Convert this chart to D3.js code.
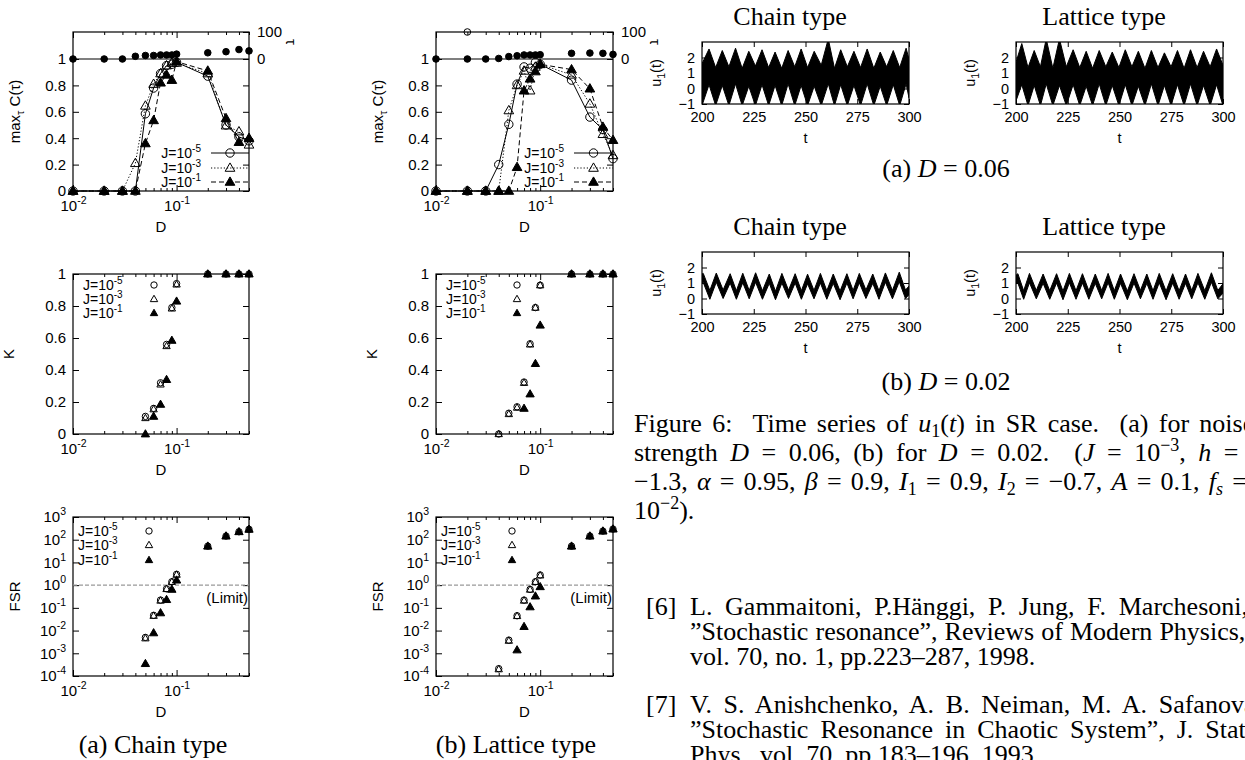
<!DOCTYPE html>
<html><head><meta charset="utf-8">
<script src="https://cdn.jsdelivr.net/npm/d3@7"></script>
<style>body{margin:0;background:#fff}svg{display:block}</style>
</head><body>
<script>
// ---------------- DATA ----------------
const dVals = [0.01,0.02,0.03,0.04,0.05,0.06,0.07,0.08,0.09,0.1,0.2,0.3,0.4,0.5];
// max_tau C(tau), chain type
const cChainJ5 = [0,0,0,0,0.585,0.78,0.89,0.95,0.96,0.975,0.87,0.50,0.41,0.38];
const cChainJ3 = [0,0,0,0.21,0.645,0.81,0.89,0.95,0.97,0.97,0.89,0.495,0.45,0.35];
const cChainJ1 = [0,0,0,0,0.36,0.535,0.82,0.88,0.84,0.98,0.91,0.55,0.37,0.40];
const tauChain = [0,0,0,10,13,13,15,15,15,18,23,27,35,30];
// max_tau C(tau), lattice type
const cLatJ5 = [0,0,0,0.2,0.505,0.81,0.94,0.93,0.975,0.96,0.84,0.56,0.465,0.245];
const cLatJ3 = [0,0,0,0,0.61,0.80,0.91,0.76,0.94,0.96,0.88,0.66,0.43,0.27];
const cLatJ1 = [0,0,0,0,0,0.18,0.76,0.85,0.905,0.96,0.92,0.775,0.485,0.385];
const tauLat = [0,0,0,2,9,12,15,15,15,16,21,22,21,17];
const tauLatOpenD = [0.02];
const tauLatOpen = [100];
// K
const kChainD = [0.05,0.06,0.07,0.08,0.09,0.1,0.2,0.3,0.4,0.5];
const kChainJ5 = [0.11,0.16,0.32,0.56,0.79,0.94,1,1,1,1];
const kChainJ3 = [0.10,0.155,0.31,0.55,0.785,0.935,1,1,1,1];
const kChainJ1 = [0,0.11,0.185,0.34,0.585,0.83,1,1,1,1];
const kLatD = [0.04,0.05,0.06,0.07,0.08,0.09,0.1,0.2,0.3,0.4,0.5];
const kLatJ5 = [0,0.13,0.17,0.325,0.564,0.79,0.93,1,1,1,1];
const kLatJ3 = [0,0.125,0.165,0.32,0.56,0.79,0.93,1,1,1,1];
const kLatJ1D = [0.07,0.08,0.09,0.1,0.2,0.3,0.4,0.5];
const kLatJ1 = [0.16,0.25,0.44,0.68,1,1,1,1];
// FSR
const fsrChainD = [0.05,0.06,0.07,0.08,0.09,0.1,0.2,0.3,0.4,0.5];
const fsrChainJ5 = [0.0050,0.047,0.22,0.69,1.41,3.0,52,145,224,288];
const fsrChainJ3 = [0.0046,0.045,0.21,0.68,1.40,2.9,52,145,224,288];
const fsrChainJ1 = [0.00035,0.0079,0.060,0.23,0.65,1.66,52,145,224,288];
const fsrLatD = [0.04,0.05,0.06,0.07,0.08,0.09,0.1,0.2,0.3,0.4,0.5];
const fsrLatJ5 = [0.00021,0.0038,0.045,0.22,0.65,1.41,2.8,52,145,240,295];
const fsrLatJ3 = [0.00020,0.0036,0.044,0.21,0.64,1.40,2.7,52,145,240,295];
const fsrLatJ1D = [0.06,0.07,0.08,0.09,0.1,0.2,0.3,0.4,0.5];
const fsrLatJ1 = [0.0014,0.015,0.11,0.33,0.85,52,145,240,295];
// time series envelopes u1(t): D = 0.06
const ts06ChainT = [200,203.4,206.6,209.8,213.0,216.2,219.4,222.6,225.8,229.0,232.2,235.3,238.5,241.6,244.8,247.9,251.0,254.2,257.6,261.0,264.0,267.0,270.2,273.4,276.6,279.8,283.0,286.1,289.2,292.4,295.5,298.6,300];
const ts06ChainHi = [1.6,2.55,1.35,2.45,1.4,2.6,1.3,2.4,1.45,2.5,1.35,2.35,1.3,2.45,1.4,2.55,1.35,2.4,1.5,3.2,1.3,2.5,1.4,2.4,1.35,2.55,1.3,2.35,1.4,2.45,1.35,2.6,1.9];
const ts06ChainLo = [-1.1,0.25,-1.1,0.2,-1.1,0.3,-1.1,0.15,-1.1,0.25,-1.1,0.2,-1.1,0.3,-1.1,0.2,-1.1,0.15,-1.1,0.3,-1.1,0.25,-1.1,0.2,-1.1,0.3,-1.1,0.15,-1.1,0.25,-1.1,0.3,-0.6];
const ts06LatT = [200,202.8,205.8,208.8,211.8,214.6,217.8,221.0,224.3,227.6,230.8,233.9,237.0,240.2,243.4,246.5,249.7,252.8,256.0,259.1,262.3,265.4,268.6,271.7,274.9,278.0,281.2,284.3,287.5,290.6,293.8,296.9,300];
const ts06LatHi = [1.7,2.9,1.35,2.45,1.4,3.2,1.3,3.2,1.4,2.5,1.35,2.4,1.3,2.45,1.4,2.35,1.35,2.5,1.4,2.4,1.3,2.45,1.35,2.3,1.4,2.45,1.3,2.5,1.35,2.4,1.4,2.55,1.5];
const ts06LatLo = [-0.8,0.25,-1.1,0.2,-1.1,0.3,-1.1,0.2,-1.1,0.25,-1.1,0.15,-1.1,0.3,-1.1,0.2,-1.1,0.25,-1.1,0.15,-1.1,0.3,-1.1,0.2,-1.1,0.25,-1.1,0.3,-1.1,0.2,-1.1,0.25,-1.1];
// time series envelopes u1(t): D = 0.02
const ts02ChainT = [200,200.6,203.8,206.9,210.2,213.6,216.6,219.7,222.8,225.9,229.2,232.5,235.5,238.6,241.8,245.0,248.0,251.0,254.1,257.2,260.3,263.4,266.7,270.0,273.0,276.0,279.2,282.5,285.5,288.6,292.0,295.3,298.3,300];
const ts02ChainHi = [1.58,1.62,0.52,1.64,0.55,1.60,0.50,1.63,0.52,1.66,0.50,1.58,0.47,1.62,0.53,1.60,0.50,1.57,0.52,1.62,0.50,1.58,0.48,1.60,0.52,1.62,0.55,1.58,0.50,1.65,0.52,1.70,0.55,0.80];
const ts02ChainLo = [1.00,1.03,-0.05,1.05,0.00,1.00,-0.05,1.02,-0.02,1.05,-0.05,0.98,-0.08,1.00,0.00,1.00,-0.05,0.95,-0.02,1.00,-0.05,0.98,-0.08,1.00,-0.02,1.02,0.00,0.98,-0.05,1.05,-0.02,1.08,0.00,0.25];
const ts02LatT = [200,200.9,203.7,206.5,209.8,213.1,216.3,219.6,222.7,225.8,229.0,232.1,235.2,238.3,241.4,244.5,247.5,250.5,253.8,257.0,260.1,263.2,266.2,269.2,272.5,275.7,278.8,281.9,284.9,287.9,291.2,294.4,297.5,300];
const ts02LatHi = [1.50,1.60,0.50,1.62,0.52,1.58,0.50,1.60,0.48,1.62,0.50,1.60,0.50,1.58,0.52,1.62,0.50,1.58,0.48,1.60,0.52,1.58,0.50,1.62,0.48,1.60,0.50,1.58,0.52,1.62,0.50,1.66,0.52,0.95];
const ts02LatLo = [0.95,1.00,-0.05,1.02,-0.02,0.98,-0.05,1.00,-0.08,1.02,-0.05,1.00,-0.05,0.98,-0.02,1.02,-0.05,0.98,-0.08,1.00,-0.02,0.98,-0.05,1.02,-0.08,1.00,-0.05,0.98,-0.02,1.02,-0.05,1.05,-0.02,0.35];
// tick labels
const cTicks = [0,0.2,0.4,0.6,0.8,1];
const fsrTicks = [1e-4,1e-3,1e-2,1e-1,1,10,100,1000];
const tTicks = [200,225,250,275,300];
const uTicks = [-1,0,1,2];
const legendLabels = ['-5','-3','-1'];

// ---------------- DRAW ----------------
const SANS = '"Liberation Sans", Arial, Helvetica, sans-serif';
const SERIF = '"Liberation Serif", "Times New Roman", serif';
const FS = 26;
const svg = d3.select('body').append('svg').attr('width',1245).attr('height',760);
svg.append('rect').attr('width',1245).attr('height',760).attr('fill','#fff');

function mark(g, type, cx, cy, s) {
  if (type === 'oc' || type === 'fc') {
    g.append('circle').attr('cx',cx).attr('cy',cy).attr('r',s)
      .attr('fill', type==='fc' ? '#000' : 'none').attr('stroke','#000').attr('stroke-width',1);
  } else {
    g.append('path').attr('d', d3.symbol(d3.symbolTriangle, s*s*2.3)())
      .attr('transform',`translate(${cx},${cy+0.5})`)
      .attr('fill', type==='ft' ? '#000' : 'none').attr('stroke','#000').attr('stroke-width',1);
  }
}
function styleAxis(ax, size) {
  ax.select('.domain').remove();
  ax.selectAll('.tick line').attr('stroke','#000').attr('stroke-width',1);
  ax.selectAll('.tick text').attr('font-family',SANS).attr('font-size',size||15).attr('fill','#000');
}
function sup(textSel, base, s, size) {
  textSel.text(null);
  textSel.append('tspan').text(base);
  textSel.append('tspan').attr('dy',-7).attr('font-size',size||10.5).text(s);
}
function frame(g, x0, x1, y0, y1) {
  g.append('rect').attr('x',x0).attr('y',y0).attr('width',x1-x0).attr('height',y1-y0)
    .attr('fill','none').attr('stroke','#000').attr('stroke-width',1.2);
}
const majorsD = [0.01,0.1];
const minorsD = [0.02,0.03,0.04,0.05,0.06,0.07,0.08,0.09,0.2,0.3,0.4,0.5];
function logXAxes(g, x, yTop, yBot, label) {
  const b = g.append('g').attr('transform',`translate(0,${yBot})`)
    .call(d3.axisBottom(x).tickValues(majorsD).tickSize(-6).tickSizeOuter(0).tickPadding(9).tickFormat(()=>''));
  styleAxis(b);
  b.selectAll('.tick text').each(function(d){ sup(d3.select(this),'10', d===0.01?'-2':'-1'); });
  const bm = g.append('g').attr('transform',`translate(0,${yBot})`)
    .call(d3.axisBottom(x).tickValues(minorsD).tickSize(-3).tickSizeOuter(0).tickFormat(''));
  styleAxis(bm);
  const t = g.append('g').attr('transform',`translate(0,${yTop})`)
    .call(d3.axisTop(x).tickValues(majorsD).tickSize(-6).tickSizeOuter(0).tickFormat(''));
  styleAxis(t);
  const tm = g.append('g').attr('transform',`translate(0,${yTop})`)
    .call(d3.axisTop(x).tickValues(minorsD).tickSize(-3).tickSizeOuter(0).tickFormat(''));
  styleAxis(tm);
  const [x0,x1] = x.range();
  g.append('text').attr('x',(x0+x1)/2).attr('y',yBot+41).attr('text-anchor','middle')
    .attr('font-family',SANS).attr('font-size',15).text(label);
}
function yLabel(g, x, y, build) {
  const t = g.append('text').attr('transform',`translate(${x},${y}) rotate(-90)`)
    .attr('text-anchor','middle').attr('font-family',SANS).attr('font-size',15);
  build(t);
}
function legendText(g, x, y, anchor, e) {
  const t = g.append('text').attr('x',x).attr('y',y).attr('text-anchor',anchor)
    .attr('font-family',SANS).attr('font-size',14);
  t.append('tspan').text('J=10');
  t.append('tspan').attr('dy',-6).attr('font-size',10).text(e);
}

const styles = [
  {m:'oc', dash:null},
  {m:'ot', dash:'1.2,2'},
  {m:'ft', dash:'5,3'}
];

const cols = [
  {x0:73, x1:249, c:[cChainJ5,cChainJ3,cChainJ1], tau:tauChain,
   kD:[kChainD,kChainD,kChainD], k:[kChainJ5,kChainJ3,kChainJ1],
   fD:[fsrChainD,fsrChainD,fsrChainD], f:[fsrChainJ5,fsrChainJ3,fsrChainJ1],
   openD:[], open:[], cap:'(a) Chain type', capX:153},
  {x0:436, x1:613, c:[cLatJ5,cLatJ3,cLatJ1], tau:tauLat,
   kD:[kLatD,kLatD,kLatJ1D], k:[kLatJ5,kLatJ3,kLatJ1],
   fD:[fsrLatD,fsrLatD,fsrLatJ1D], f:[fsrLatJ5,fsrLatJ3,fsrLatJ1],
   openD:tauLatOpenD, open:tauLatOpen, cap:'(b) Lattice type', capX:516}
];

cols.forEach(col => {
  const g = svg.append('g');
  const x = d3.scaleLog().domain([0.01,0.5]).range([col.x0,col.x1]);
  // ---------- C panel ----------
  const top=32, one=59, bot=191;
  const yC = d3.scaleLinear().domain([0,1]).range([bot,one]);
  const yT = d3.scaleLinear().domain([0,100]).range([one,top]);
  frame(g, col.x0, col.x1, top, bot);
  g.append('line').attr('x1',col.x0).attr('x2',col.x1).attr('y1',one).attr('y2',one).attr('stroke','#000').attr('stroke-width',1.2);
  logXAxes(g, x, top, bot, 'D');
  const la = g.append('g').attr('transform',`translate(${col.x0},0)`)
    .call(d3.axisLeft(yC).tickValues(cTicks).tickSize(-6).tickPadding(7).tickFormat(d3.format('~g')));
  styleAxis(la);
  const ra = g.append('g').attr('transform',`translate(${col.x1},0)`)
    .call(d3.axisRight(yC).tickValues(cTicks.slice(0,5)).tickSize(-6).tickFormat(''));
  styleAxis(ra);
  const ta = g.append('g').attr('transform',`translate(${col.x1},0)`)
    .call(d3.axisRight(yT).tickValues([0,100]).tickSize(-6).tickPadding(8).tickFormat(d3.format('d')));
  styleAxis(ta);
  g.append('text').attr('transform',`translate(${col.x1+37},${top+10}) rotate(90)`)
    .attr('text-anchor','middle').attr('font-family',SANS).attr('font-size',15).text('τ');
  yLabel(g, col.x0-53, (top+bot)/2, t => {
    t.append('tspan').text('max');
    t.append('tspan').attr('dy',4).attr('font-size',11).text('τ');
    t.append('tspan').attr('dy',-4).text(' C(τ)');
  });
  const cg = g.append('g');
  col.c.forEach((arr,i) => {
    const pts = dVals.map((d,j)=>[d,arr[j]]);
    cg.append('path').datum(pts).attr('fill','none').attr('stroke','#000').attr('stroke-width',1)
      .attr('stroke-dasharray',styles[i].dash)
      .attr('d', d3.line().x(p=>x(p[0])).y(p=>yC(p[1])));
    pts.forEach(p => mark(cg, styles[i].m, x(p[0]), yC(p[1]), 4.2));
  });
  dVals.forEach((d,j) => mark(cg,'fc', x(d), yT(col.tau[j]), 3.3));
  col.openD.forEach((d,j) => mark(cg,'oc', x(d), yT(col.open[j]), 3.3));
  const lyC = [153,168,182];
  legendLabels.forEach((e,i) => {
    legendText(g, col.x0+128, lyC[i]+5, 'end', e);
    g.append('line').attr('x1',col.x0+138).attr('x2',col.x1).attr('y1',lyC[i]).attr('y2',lyC[i])
      .attr('stroke','#000').attr('stroke-width',1).attr('stroke-dasharray',styles[i].dash);
    mark(g, styles[i].m, (col.x0+138+col.x1)/2, lyC[i], 4.2);
  });

  // ---------- K panel ----------
  const kTop=274, kBot=434;
  const yK = d3.scaleLinear().domain([0,1]).range([kBot,kTop]);
  frame(g, col.x0, col.x1, kTop, kBot);
  logXAxes(g, x, kTop, kBot, 'D');
  const kl = g.append('g').attr('transform',`translate(${col.x0},0)`)
    .call(d3.axisLeft(yK).tickValues(cTicks).tickSize(-6).tickPadding(7).tickFormat(d3.format('~g')));
  styleAxis(kl);
  const kr = g.append('g').attr('transform',`translate(${col.x1},0)`)
    .call(d3.axisRight(yK).tickValues(cTicks).tickSize(-6).tickFormat(''));
  styleAxis(kr);
  yLabel(g, col.x0-59, (kTop+kBot)/2, t => t.text('K'));
  const kg = g.append('g');
  [2,0,1].forEach(i => col.kD[i].forEach((d,j) => mark(kg, styles[i].m, x(d), yK(col.k[i][j]), i===2?3.6:3.2)));
  const lyK = [285,299,313];
  legendLabels.forEach((e,i) => {
    legendText(g, col.x0+10, lyK[i]+5, 'start', e);
    mark(g, styles[i].m, col.x0+81, lyK[i], 3.2);
  });

  // ---------- FSR panel ----------
  const fTop=517, fBot=676;
  const yF = d3.scaleLog().domain([1e-4,1e3]).range([fBot,fTop]);
  frame(g, col.x0, col.x1, fTop, fBot);
  logXAxes(g, x, fTop, fBot, 'D');
  const fl = g.append('g').attr('transform',`translate(${col.x0},0)`)
    .call(d3.axisLeft(yF).tickValues(fsrTicks).tickSize(-6).tickPadding(7).tickFormat(()=>''));
  styleAxis(fl);
  fl.selectAll('.tick text').each(function(d){ sup(d3.select(this),'10', String(Math.round(Math.log10(d)))); });
  const fr = g.append('g').attr('transform',`translate(${col.x1},0)`)
    .call(d3.axisRight(yF).tickValues(fsrTicks).tickSize(-6).tickFormat(''));
  styleAxis(fr);
  yLabel(g, col.x0-53, (fTop+fBot)/2, t => t.text('FSR'));
  g.append('line').attr('x1',col.x0).attr('x2',col.x1).attr('y1',yF(1)).attr('y2',yF(1))
    .attr('stroke','#999').attr('stroke-width',1.2).attr('stroke-dasharray','4,2');
  g.append('text').attr('x',col.x1-1).attr('y',yF(1)+18).attr('text-anchor','end')
    .attr('font-family',SANS).attr('font-size',15).text('(Limit)');
  const fg = g.append('g');
  [2,0,1].forEach(i => col.fD[i].forEach((d,j) => mark(fg, styles[i].m, x(d), yF(col.f[i][j]), i===2?3.6:3.2)));
  const lyF = [531,545,560];
  legendLabels.forEach((e,i) => {
    legendText(g, col.x0+5, lyF[i]+5, 'start', e);
    mark(g, styles[i].m, col.x0+76, lyF[i], 3.2);
  });
  g.append('text').attr('x',col.capX).attr('y',753).attr('text-anchor','middle')
    .attr('font-family',SERIF).attr('font-size',FS).text(col.cap);
});

// ---------- time series panels ----------
const tsPanels = [
  {x0:702,x1:909,top:42,bot:104,t:ts06ChainT,hi:ts06ChainHi,lo:ts06ChainLo,title:'Chain type'},
  {x0:1016,x1:1223,top:42,bot:104,t:ts06LatT,hi:ts06LatHi,lo:ts06LatLo,title:'Lattice type'},
  {x0:702,x1:909,top:252,bot:314,t:ts02ChainT,hi:ts02ChainHi,lo:ts02ChainLo,title:'Chain type'},
  {x0:1016,x1:1223,top:252,bot:314,t:ts02LatT,hi:ts02LatHi,lo:ts02LatLo,title:'Lattice type'}
];
tsPanels.forEach((p,i) => {
  const g = svg.append('g');
  const x = d3.scaleLinear().domain([200,300]).range([p.x0,p.x1]);
  const y = d3.scaleLinear().domain([-1,3]).range([p.bot,p.top]);
  const cid = 'clipts'+i;
  g.append('clipPath').attr('id',cid).append('rect').attr('x',p.x0).attr('y',p.top).attr('width',p.x1-p.x0).attr('height',p.bot-p.top);
  const pts = p.t.map((t,j)=>({t, hi:p.hi[j], lo:p.lo[j]}));
  g.append('path').datum(pts).attr('clip-path',`url(#${cid})`).attr('fill','#000').attr('stroke','#000').attr('stroke-width',1)
    .attr('d', d3.area().x(d=>x(d.t)).y0(d=>y(d.lo)).y1(d=>y(d.hi)));
  frame(g, p.x0, p.x1, p.top, p.bot);
  const b = g.append('g').attr('transform',`translate(0,${p.bot})`)
    .call(d3.axisBottom(x).tickValues(tTicks).tickSize(-5).tickSizeOuter(0).tickPadding(8).tickFormat(d3.format('d')));
  styleAxis(b, 14.5);
  const tp = g.append('g').attr('transform',`translate(0,${p.top})`)
    .call(d3.axisTop(x).tickValues(tTicks).tickSize(-5).tickSizeOuter(0).tickFormat(''));
  styleAxis(tp);
  const l = g.append('g').attr('transform',`translate(${p.x0},0)`)
    .call(d3.axisLeft(y).tickValues(uTicks).tickSize(-5).tickPadding(7).tickFormat(d3.format('d')));
  styleAxis(l, 14.5);
  const r = g.append('g').attr('transform',`translate(${p.x1},0)`)
    .call(d3.axisRight(y).tickValues(uTicks).tickSize(-5).tickFormat(''));
  styleAxis(r);
  g.append('text').attr('x',(p.x0+p.x1)/2).attr('y',p.bot+39).attr('text-anchor','middle')
    .attr('font-family',SANS).attr('font-size',14.5).text('t');
  const yl = g.append('text').attr('transform',`translate(${p.x0-41},${(p.top+p.bot)/2}) rotate(-90)`)
    .attr('text-anchor','middle').attr('font-family',SANS).attr('font-size',14.5);
  yl.append('tspan').text('u');
  yl.append('tspan').attr('dy',4).attr('font-size',10.5).text('1');
  yl.append('tspan').attr('dy',-4).text('(t)');
  g.append('text').attr('x',p.x0+88).attr('y',p.top-17).attr('text-anchor','middle')
    .attr('font-family',SERIF).attr('font-size',FS).text(p.title);
});
function dCaption(x, y, lab, val) {
  const t = svg.append('text').attr('x',x).attr('y',y).attr('text-anchor','middle')
    .attr('font-family',SERIF).attr('font-size',FS);
  t.append('tspan').text(lab+' ');
  t.append('tspan').attr('font-style','italic').text('D');
  t.append('tspan').text(' = '+val);
}
dCaption(946, 177, '(a)', '0.06');
dCaption(946, 390, '(b)', '0.02');

// ---------- caption paragraph ----------
function richLine(x, y, parts, ws) {
  const t = svg.append('text').attr('x',x).attr('y',y).attr('font-family',SERIF).attr('font-size',FS)
    .attr('word-spacing', ws||0).attr('xml:space','preserve');
  parts.forEach(p => {
    const s = t.append('tspan').text(p[0]);
    if (p[1]==='i') s.attr('font-style','italic');
    if (p[1]==='sup') s.attr('dy',-10).attr('font-size',18);
    if (p[1]==='sub') s.attr('dy',5).attr('font-size',18);
    if (p[1]==='subi') s.attr('dy',5).attr('font-size',18).attr('font-style','italic');
    if (p[2]) s.attr('dy', p[2]);
  });
  return t;
}
richLine(634, 432, [['Figure 6:  Time series of '],['u','i'],['1','sub'],['(',null,-5],['t','i'],[') in SR case.  (a) for noise']], 3.8);
richLine(634, 461, [['strength '],['D','i'],[' = 0.06, (b) for '],['D','i'],[' = 0.02.  ('],['J','i'],[' = 10'],['−3','sup'],[',',null,10],[' '],['h','i'],[' =']], 6);
richLine(634, 490, [['−1.3, '],['α','i'],[' = 0.95, '],['β','i'],[' = 0.9, '],['I','i'],['1','sub'],[' = 0.9, ',null,-5],['I','i'],['2','sub'],[' = −0.7, ',null,-5],['A','i'],[' = 0.1, '],['f','i'],['s','subi'],[' =',null,-5]], 2.7);
richLine(634, 519, [['10'],['−2','sup'],[').',null,10]], 0);

// ---------- references ----------
const refs = [
  ['[6]', ['L. Gammaitoni, P.Hänggi, P. Jung, F. Marchesoni,', '”Stochastic resonance”, Reviews of Modern Physics,', 'vol. 70, no. 1, pp.223–287, 1998.'], [6.2, 0.6, 0], 615],
  ['[7]', ['V. S. Anishchenko, A. B. Neiman, M. A. Safanova,', '”Stochastic Resonance in Chaotic System”, J. Stat.', 'Phys., vol. 70, pp.183–196, 1993.'], [5.2, 5.5, 0], 713]
];
refs.forEach(r => {
  svg.append('text').attr('x',646).attr('y',r[3]).attr('font-family',SERIF).attr('font-size',FS).text(r[0]);
  r[1].forEach((line,i) => {
    svg.append('text').attr('x',690).attr('y',r[3]+i*25).attr('font-family',SERIF).attr('font-size',FS)
      .attr('word-spacing', r[2][i]).text(line);
  });
});
</script>
</body></html>
